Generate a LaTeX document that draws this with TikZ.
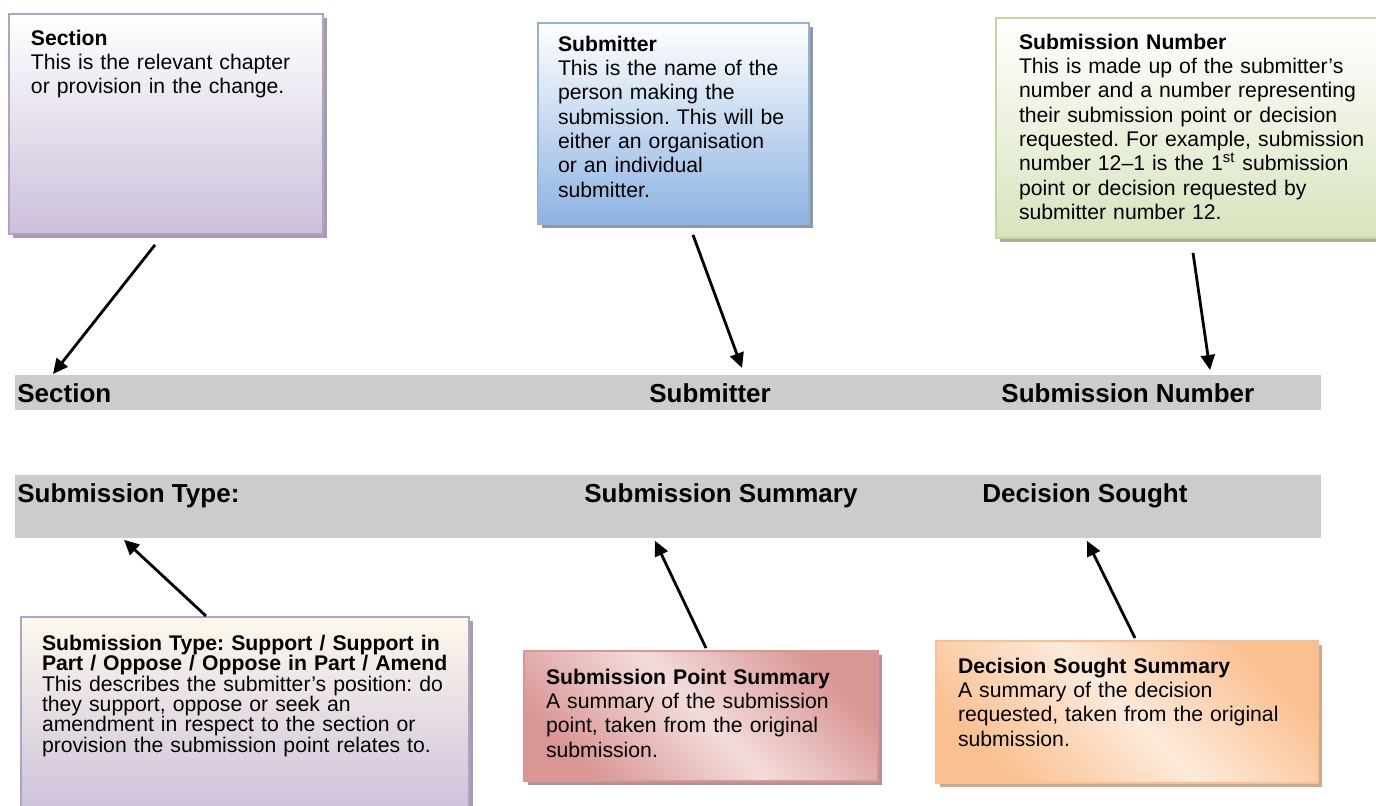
\documentclass[tikz,border=0pt]{standalone}
\usepackage{fontspec}
\setmainfont{Liberation Sans}
\usetikzlibrary{positioning, arrows.meta, calc, shadows}
\frenchspacing
\hyphenpenalty=10000

\definecolor{lilacline}{HTML}{B3A2C7}
\definecolor{lilacfill}{HTML}{CCC0DA}
\definecolor{lilacshade}{HTML}{A59CB0}
\definecolor{creamfill}{HTML}{FEF8EC}
\definecolor{blueline}{HTML}{95B3D7}
\definecolor{bluefill}{HTML}{8DB3E2}
\definecolor{blueshade}{HTML}{8C99AA}
\definecolor{greenline}{HTML}{C3D69B}
\definecolor{greenfill}{HTML}{D7E4BD}
\definecolor{greenshade}{HTML}{A9B094}
\definecolor{roseline}{HTML}{D99694}
\definecolor{roselight}{HTML}{F2DCDB}
\definecolor{roseshade}{HTML}{B69393}
\definecolor{peachline}{HTML}{FAC090}
\definecolor{peachlight}{HTML}{FDEADA}
\definecolor{peachshade}{HTML}{CCA98B}
\definecolor{bargrey}{HTML}{CCCCCC}

\begin{document}
\begin{tikzpicture}[x=0.5pt, y=-0.5pt,
    infobox/.style={draw=#1line, line width=1pt, anchor=north west, align=left,
      inner xsep=11pt, font=\fontsize{10.6}{12.15}\selectfont,
      drop shadow={shadow xshift=2pt, shadow yshift=-2pt, opacity=1, fill=#1shade}},
    bar/.style={fill=bargrey, anchor=north west, inner sep=0pt, minimum width=653pt},
    barlabel/.style={anchor=base west, inner sep=0pt, font=\fontsize{13}{15}\selectfont\bfseries},
    pointer/.style={line width=1.4pt, -{Triangle[length=7.5pt, width=7pt]}}]
  \useasboundingbox (0,0) rectangle (1376,805);

  % grey rows
  \node[bar, minimum height=17.5pt] (toprow) at (15,375) {};
  \node[bar, minimum height=31.5pt] (lowrow) at (15,475) {};
  \node[barlabel] (sectionlbl) at (17,402) {Section};
  \node[barlabel] (submitterlbl) at (649,402) {Submitter};
  \node[barlabel] (numberlbl) at (1001,402) {Submission Number};
  \node[barlabel] (typelbl) at (17,502) {Submission Type:};
  \node[barlabel] (summarylbl) at (584,502) {Submission Summary};
  \node[barlabel] (decisionlbl) at (982,502) {Decision Sought};

  % explanation boxes, top
  \node[infobox=lilac, top color=white, bottom color=lilacfill, text width=135pt,
    inner ysep=8pt, text depth=86.25pt] (sectionbox) at (8,13)
    {\textbf{Section}\\This is the relevant chapter\\or provision in the change.};
  \node[infobox=blue, top color=white, bottom color=bluefill, text width=115.5pt,
    inner xsep=10pt, inner ysep=6.5pt, text depth=79.75pt] (submitterbox) at (537,22)
    {\textbf{Submitter}\\This is the name of the\\person making the\\submission. This will be\\either an organisation\\or an individual\\submitter.};
  \node[infobox=green, top color=white, bottom color=greenfill, text width=180pt,
    inner xsep=11.5pt, inner ysep=8pt, text depth=86.25pt] (numberbox) at (995,17)
    {\textbf{Submission Number}\\This is made up of the submitter’s\\number and a number representing\\their submission point or decision\\requested. For example, submission\\number 12--1 is the 1\textsuperscript{st} submission\\point or decision requested by\\submitter number 12.};

  % explanation boxes, bottom
  \node[infobox=lilac, top color=creamfill, bottom color=lilacfill, text width=203pt,
    inner xsep=10.5pt, inner ysep=9pt, text depth=74.25pt, font=\fontsize{10.6}{10.2}\selectfont] (typebox) at (20,616)
    {\textbf{Submission Type: Support / Support in}\\\textbf{Part / Oppose / Oppose in Part / Amend}\\This describes the submitter’s position: do\\they support, oppose or seek an\\amendment in respect to the section or\\provision the submission point relates to.};
  \node[infobox=rose, top color=roseline, bottom color=roseline, middle color=roselight,
    shading angle=-45, text width=155pt, inner ysep=9pt, text depth=39.25pt] (pointbox) at (523,650)
    {\textbf{Submission Point Summary}\\A summary of the submission\\point, taken from the original\\submission.};
  \node[infobox=peach, top color=peachline, bottom color=peachline, middle color=peachlight,
    shading angle=-45, text width=169pt, inner ysep=8.5pt, text depth=46.25pt] (decisionbox) at (935,640)
    {\textbf{Decision Sought Summary}\\A summary of the decision\\requested, taken from the original\\submission.};

  % pointers
  \path[pointer]
    ($(sectionbox.south west)+(147,10)$) edge ($(toprow.north west)+(38,-1)$)
    ($(submitterbox.south west)+(156,10)$) edge ($(toprow.north west)+(727,-7)$)
    ($(numberbox.south west)+(198,14)$) edge ($(toprow.north west)+(1195,-5)$)
    ($(typebox.north west)+(186,0)$) edge ($(lowrow.south west)+(109,1)$)
    ($(pointbox.north west)+(183,-2)$) edge ($(lowrow.south west)+(640,2)$)
    ($(decisionbox.north west)+(200,-2)$) edge ($(lowrow.south west)+(1072,2)$);
\end{tikzpicture}
\end{document}
